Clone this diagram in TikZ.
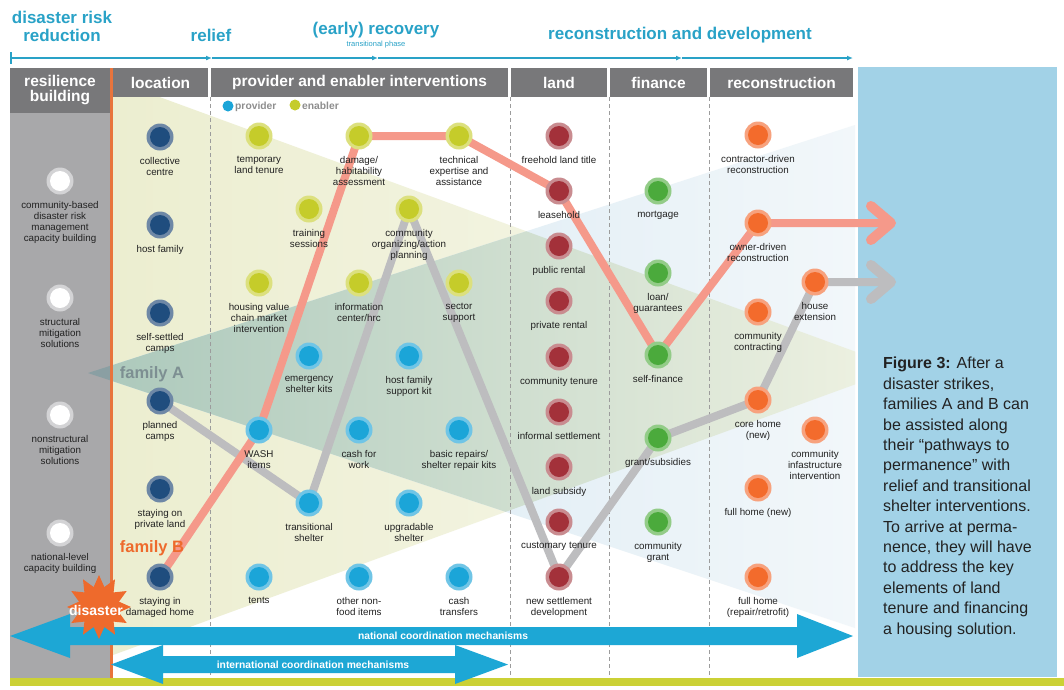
\documentclass[tikz,border=0pt]{standalone}
\usepackage{fontspec}
\setmainfont{Liberation Sans}
\usetikzlibrary{shapes.geometric,arrows.meta,calc}
\definecolor{cTeal}{HTML}{29A2C7}
\definecolor{cHdr}{HTML}{78787A}
\definecolor{cCol}{HTML}{A8A8AA}
\definecolor{cOr}{HTML}{EE6A2C}
\definecolor{cOrLine}{HTML}{E8743C}
\definecolor{cYel}{HTML}{ECEED0}
\definecolor{cYelR}{HTML}{F8F8EE}
\definecolor{cBlueL}{HTML}{D3E6F1}
\definecolor{cBlueR}{HTML}{F2F7FA}
\definecolor{cGrnL}{HTML}{ABC8BB}
\definecolor{cGrnR}{HTML}{ECF0E0}
\definecolor{cApex}{HTML}{8A9FA3}
\definecolor{cProv}{HTML}{1BA5D8}
\definecolor{cProvR}{HTML}{70C5E6}
\definecolor{cEnab}{HTML}{C5CC2A}
\definecolor{cEnabR}{HTML}{DCE07E}
\definecolor{cLoc}{HTML}{1F4D7E}
\definecolor{cLocR}{HTML}{6E88A6}
\definecolor{cLand}{HTML}{A3313A}
\definecolor{cLandR}{HTML}{C98C90}
\definecolor{cFin}{HTML}{4BAA3C}
\definecolor{cFinR}{HTML}{93CC88}
\definecolor{cRec}{HTML}{F36B2C}
\definecolor{cRecR}{HTML}{F7A27E}
\definecolor{cResR}{HTML}{D3D3D5}
\definecolor{cPink}{HTML}{F5998A}
\definecolor{cGrayL}{HTML}{BDBDBF}
\definecolor{cArrow}{HTML}{1DA7D5}
\definecolor{cBar}{HTML}{CBD135}
\definecolor{cPanel}{HTML}{A2D2E7}
\definecolor{cFamA}{HTML}{7D8F92}
\definecolor{cDash}{HTML}{9C9C9C}
\definecolor{cTxt}{HTML}{222222}
\definecolor{cLeg}{HTML}{8E8E8E}
\pgfdeclarelayer{bg}
\pgfdeclarelayer{lines}
\pgfsetlayers{bg,lines,main}
\tikzset{
  nring/.style={circle, inner sep=0pt, minimum size=27pt, fill=#1},
  ncore/.style={path picture={\fill[#1] (path picture bounding box.center) circle (10);}},
  sProv/.style={nring=cProvR, ncore=cProv},
  sEnab/.style={nring=cEnabR, ncore=cEnab},
  sLoc/.style={nring=cLocR, ncore=cLoc},
  sLand/.style={nring=cLandR, ncore=cLand},
  sFin/.style={nring=cFinR, ncore=cFin},
  sRec/.style={nring=cRecR, ncore=cRec},
  sRes/.style={nring=cResR, ncore=white},
  lbl/.style={font=\fontsize{9.8}{11}\selectfont, align=center, inner sep=0pt, text=cTxt},
  hdr/.style={fill=cHdr, text=white, font=\bfseries\fontsize{15.5}{15}\selectfont, inner sep=0pt, align=center},
  ttl/.style={text=cTeal, font=\bfseries\fontsize{17}{18}\selectfont, inner sep=0pt, align=center},
  tline/.style={cTeal, line width=1.3pt},
  dline/.style={cDash, line width=0.8pt, dash pattern=on 4pt off 3pt},
  pinkln/.style={cPink, line width=8pt, line join=round, line cap=round},
  grayln/.style={cGrayL, line width=8pt, line join=round, line cap=round},
  arrtxt/.style={text=white, font=\bfseries\fontsize{10.3}{11}\selectfont, inner sep=0pt},
  legtxt/.style={text=cLeg, font=\bfseries\fontsize{10.3}{11}\selectfont, inner sep=0pt, anchor=west},
}
\newcommand{\nd}[5]{\node[#2] (#1) at (#3,#4) {}; \node[lbl,anchor=north] (#1t) at (#3,#4+20) {#5};}
\begin{document}
\begin{tikzpicture}[x=1pt,y=-1pt]
\useasboundingbox (0,0) rectangle (1064,689);
\begin{pgfonlayer}{bg}
\fill[white] (0,0) rectangle (1064,689);
% resilience column body
\fill[cCol] (10,113) rectangle (110,678);
% yellow triangle
\begin{scope}
  \clip (113,60) rectangle (855,680);
  \shade[left color=cYel, right color=cYelR] (113,80) -- (113,655) -- (900,368) -- cycle;
\end{scope}
% blue (family A) triangle
\begin{scope}
  \clip (113,60) rectangle (855,680);
  \shade[left color=cBlueL, right color=cBlueR] (88,373) -- (855,125) -- (855,628) -- cycle;
\end{scope}
\begin{scope}
  \clip (113,60) rectangle (855,680);
  \clip (113,80) -- (113,655) -- (900,368) -- cycle;
  \shade[left color=cGrnL, right color=cGrnR] (88,373) -- (855,125) -- (855,628) -- cycle;
\end{scope}
\begin{scope}
  \clip (10,113) rectangle (110,678);
  \fill[cApex] (88,373) -- (855,125) -- (855,628) -- cycle;
\end{scope}
% orange line
\fill[cOrLine] (110,68) rectangle (113,678);
% dashed column lines
\draw[dline] (210,97) -- (210,678);
\draw[dline] (510,97) -- (510,678);
\draw[dline] (609,97) -- (609,678);
\draw[dline] (709,97) -- (709,678);
% headers
\node[hdr, minimum width=100, minimum height=45] (hres) at (60,90.5) {resilience\\building};
\node[hdr, minimum width=95, minimum height=29] (hloc) at (160.5,82.5) {location};
\node[hdr, minimum width=297, minimum height=29] (hprov) at (359.5,82.5) {provider and enabler interventions};
\node[hdr, minimum width=96, minimum height=29] (hland) at (559,82.5) {land};
\node[hdr, minimum width=97, minimum height=29] (hfin) at (658.5,82.5) {finance};
\node[hdr, minimum width=143, minimum height=29] (hrec) at (781.5,82.5) {reconstruction};
% right panel
\fill[cPanel] (858,67) rectangle (1057,677);
% bottom bar
\fill[cBar] (10,678) rectangle (1064,686);
% timeline
\coordinate (t0) at (11,58);
\coordinate (t1) at (212,58);
\coordinate (t2) at (378,58);
\coordinate (t3) at (682,58);
\coordinate (t4) at (853,58);
\draw[tline] (11,52) -- (11,64);
\draw[tline,-{Latex[length=6pt,width=5pt]}] (t0) -- (t1);
\draw[tline,-{Latex[length=6pt,width=5pt]}] (t1) -- (t2);
\draw[tline,-{Latex[length=6pt,width=5pt]}] (t2) -- (t3);
\draw[tline,-{Latex[length=6pt,width=5pt]}] (t3) -- (t4);
\node[ttl] (tdrr) at (62,26) {disaster risk\\reduction};
\node[ttl] (trel) at (211,35) {relief};
\node[ttl] (trec) at (376,30) {(early) recovery};
\node[text=cTeal, font=\fontsize{7.5}{8}\selectfont, inner sep=0pt] (ttp) at (376,45) {transitional phase};
\node[ttl] (trd) at (680,35) {reconstruction and development};
\end{pgfonlayer}

% legend
\node[circle, fill=cProv, minimum size=11pt, inner sep=0pt] (lgp) at (228,106) {};
\node[legtxt] (lgpt) at (235,106.5) {provider};
\node[circle, fill=cEnab, minimum size=11pt, inner sep=0pt] (lge) at (295,105) {};
\node[legtxt] (lget) at (302,105.5) {enabler};

% resilience
\nd{r1}{sRes}{60}{181}{community-based\\disaster risk\\management\\capacity building}
\nd{r2}{sRes}{60}{298}{structural\\mitigation\\solutions}
\nd{r3}{sRes}{60}{415}{nonstructural\\mitigation\\solutions}
\nd{r4}{sRes}{60}{533}{national-level\\capacity building}
% location
\nd{l1}{sLoc}{160}{137}{collective\\centre}
\nd{l2}{sLoc}{160}{225}{host family}
\nd{l3}{sLoc}{160}{313}{self-settled\\camps}
\nd{l4}{sLoc}{160}{401}{planned\\camps}
\nd{l5}{sLoc}{160}{489}{staying on\\private land}
\nd{l6}{sLoc}{160}{577}{staying in\\damaged home}
% enablers
\nd{e1}{sEnab}{259}{136}{temporary\\land tenure}
\nd{e2}{sEnab}{359}{136}{damage/\\habitability\\assessment}
\nd{e3}{sEnab}{459}{136}{technical\\expertise and\\assistance}
\nd{e4}{sEnab}{309}{209}{training\\sessions}
\nd{e5}{sEnab}{409}{209}{community\\organizing/action\\planning}
\nd{e6}{sEnab}{259}{283}{housing value\\chain market\\intervention}
\nd{e7}{sEnab}{359}{283}{information\\center/hrc}
\nd{e8}{sEnab}{459}{283}{sector\\support}
% providers
\nd{p1}{sProv}{309}{356}{emergency\\shelter kits}
\nd{p2}{sProv}{409}{356}{host family\\support kit}
\nd{p3}{sProv}{259}{430}{WASH\\items}
\nd{p4}{sProv}{359}{430}{cash for\\work}
\nd{p5}{sProv}{459}{430}{basic repairs/\\shelter repair kits}
\nd{p6}{sProv}{309}{503}{transitional\\shelter}
\nd{p7}{sProv}{409}{503}{upgradable\\shelter}
\nd{p8}{sProv}{259}{577}{tents}
\nd{p9}{sProv}{359}{577}{other non-\\food items}
\nd{p10}{sProv}{459}{577}{cash\\transfers}
% land
\nd{d1}{sLand}{559}{136}{freehold land title}
\nd{d2}{sLand}{559}{191}{leasehold}
\nd{d3}{sLand}{559}{246}{public rental}
\nd{d4}{sLand}{559}{301}{private rental}
\nd{d5}{sLand}{559}{357}{community tenure}
\nd{d6}{sLand}{559}{412}{informal settlement}
\nd{d7}{sLand}{559}{467}{land subsidy}
\nd{d8}{sLand}{559}{522}{customary tenure}
\nd{d9}{sLand}{559}{577}{new settlement\\development}
% finance
\nd{f1}{sFin}{658}{191}{mortgage}
\nd{f2}{sFin}{658}{273}{loan/\\guarantees}
\nd{f3}{sFin}{658}{355}{self-finance}
\nd{f4}{sFin}{658}{438}{grant/subsidies}
\nd{f5}{sFin}{658}{522}{community\\grant}
% reconstruction
\nd{c1}{sRec}{758}{135}{contractor-driven\\reconstruction}
\nd{c2}{sRec}{758}{223}{owner-driven\\reconstruction}
\nd{c3}{sRec}{758}{312}{community\\contracting}
\nd{c4}{sRec}{758}{400}{core home\\(new)}
\nd{c5}{sRec}{758}{488}{full home (new)}
\nd{c6}{sRec}{758}{577}{full home\\(repair/retrofit)}
\nd{c7}{sRec}{815}{282}{house\\extension}
\nd{c8}{sRec}{815}{430}{community\\infastructure\\intervention}

% pathways
\coordinate (endA) at (891,282);
\coordinate (endB) at (891,223);
\begin{pgfonlayer}{lines}
\draw[grayln] (l4.center) -- (p6.center) -- (e5.center) -- (d9.center) -- (f4.center) -- (c4.center) -- (c7.center) -- (endA);
\draw[grayln, line width=10pt] ($(endA)+(-20,-17)$) -- (endA) -- ($(endA)+(-20,17)$);
\draw[pinkln] (l6.center) -- (p3.center) -- (e2.center) -- (e3.center) -- (d2.center) -- (f3.center) -- (c2.center) -- (endB);
\draw[pinkln, line width=10pt] ($(endB)+(-20,-17)$) -- (endB) -- ($(endB)+(-20,17)$);
\end{pgfonlayer}

% family labels
\node[text=cFamA, font=\bfseries\fontsize{16.5}{17}\selectfont, inner sep=0pt] (famA) at (152,374) {family A};
\node[text=cOr, font=\bfseries\fontsize{16.5}{17}\selectfont, inner sep=0pt] (famB) at (152,548) {family B};

% coordination arrows
\fill[cArrow] (10,636) -- (70,614) -- (70,627) -- (797,627) -- (797,614) -- (853,636) -- (797,658) -- (797,645) -- (70,645) -- (70,658) -- cycle;
\node[arrtxt] (natl) at (443,636) {national coordination mechanisms};
\fill[cArrow] (111,664.5) -- (163,645) -- (163,656) -- (455,656) -- (455,645) -- (508,664.5) -- (455,684) -- (455,673) -- (163,673) -- (163,684) -- cycle;
\node[arrtxt] (intl) at (313,665) {international coordination mechanisms};

% disaster star
\node[star, star points=12, star point ratio=1.55, minimum size=64pt, fill=cOr, inner sep=0pt] (star) at (99,607) {};
\node[text=white, font=\bfseries\fontsize{14}{14}\selectfont, inner sep=0pt] (dis) at (96,610) {disaster};

% caption
\node[anchor=north west, align=left, inner sep=0pt, font=\fontsize{16}{20.4}\selectfont, text=cTxt] (cap) at (883,357) {{\bfseries Figure 3:} After a\\disaster strikes,\\families A and B can\\be assisted along\\their “pathways to\\permanence” with\\relief and transitional\\shelter interventions.\\To arrive at perma-\\nence, they will have\\to address the key\\elements of land\\tenure and financing\\a housing solution.};
\end{tikzpicture}
\end{document}
